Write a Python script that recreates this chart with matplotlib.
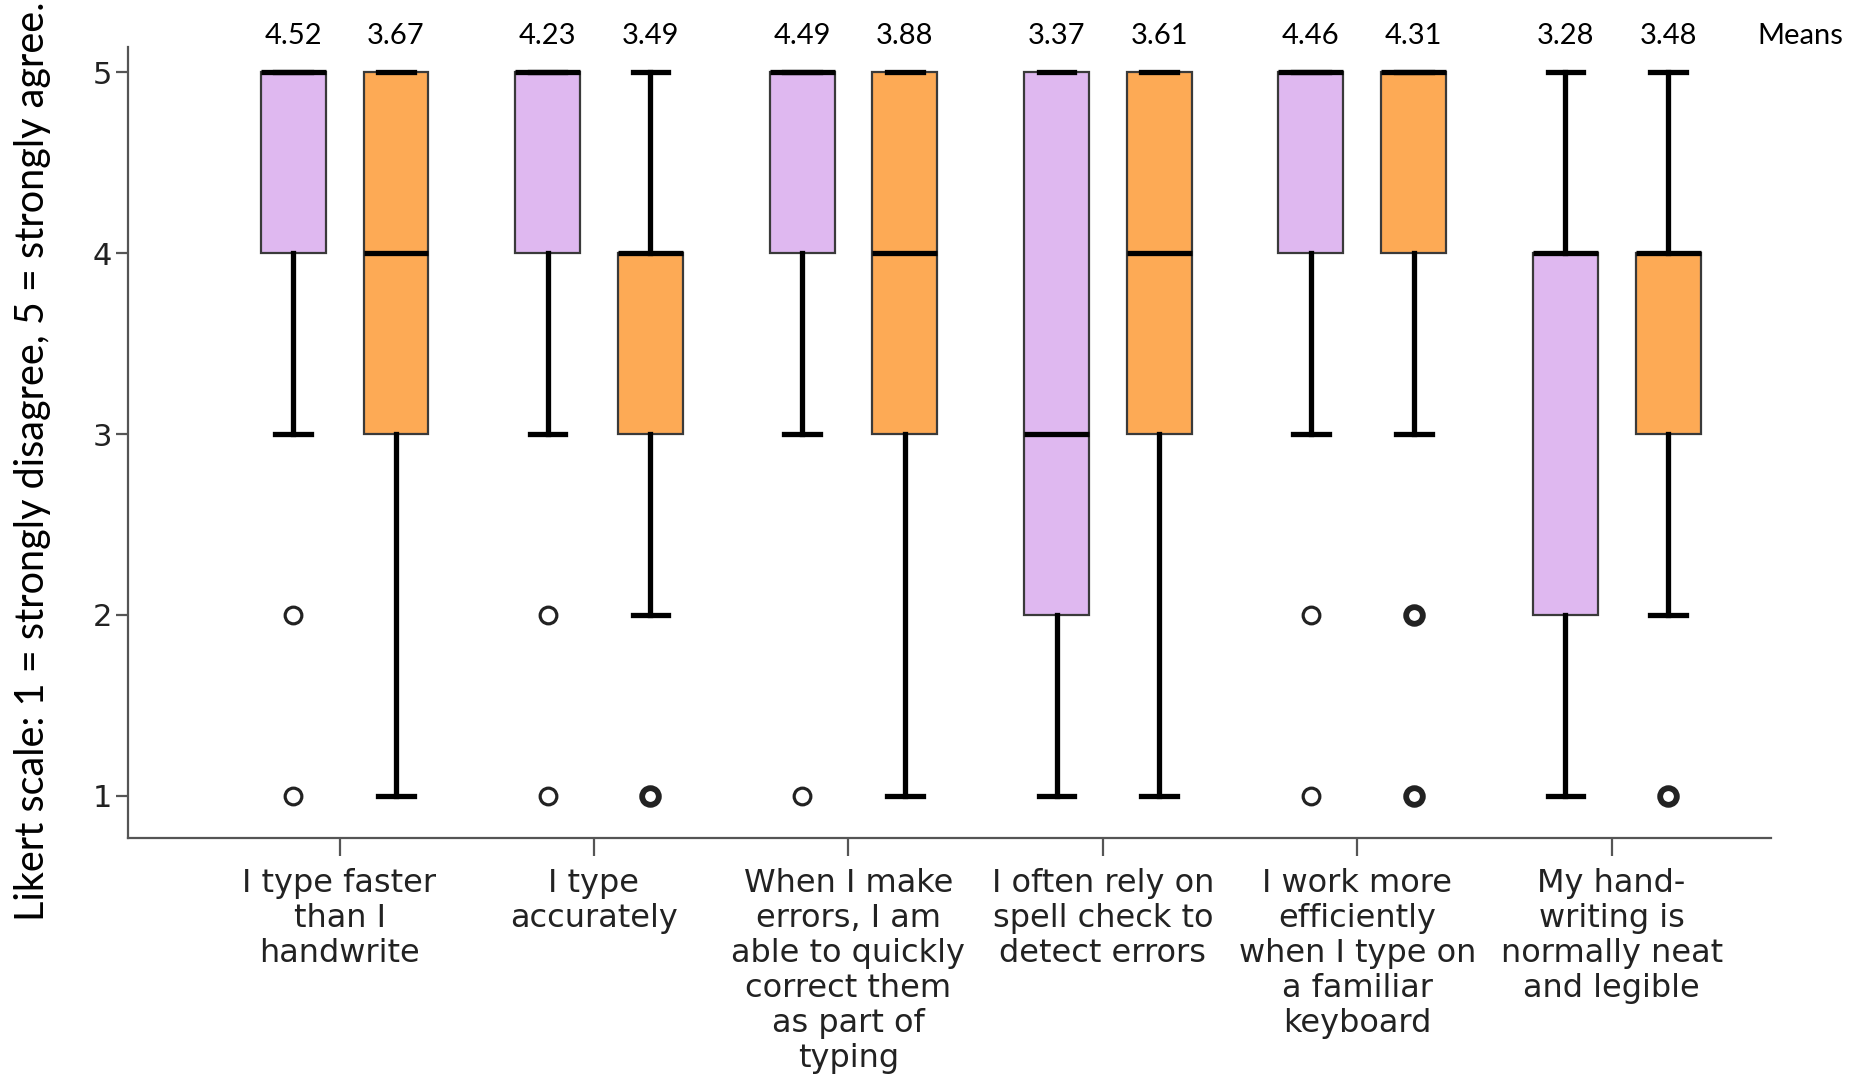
import numpy as np
import matplotlib
matplotlib.use('Agg')
import matplotlib.pyplot as plt

# survey items (x axis) and the two response groups per item
items = ['I type faster\nthan I\nhandwrite',
         'I type\naccurately',
         'When I make\nerrors, I am\nable to quickly\ncorrect them\nas part of\ntyping',
         'I often rely on\nspell check to\ndetect errors',
         'I work more\nefficiently\nwhen I type on\na familiar\nkeyboard',
         'My hand-\nwriting is\nnormally neat\nand legible']

# purple group: box quartiles, median, whisker ends, outliers (value, count)
purple_q1 = [4, 4, 4, 2, 4, 2]
purple_med = [5, 5, 5, 3, 5, 4]
purple_q3 = [5, 5, 5, 5, 5, 4]
purple_lo = [3, 3, 3, 1, 3, 1]
purple_hi = [5, 5, 5, 5, 5, 5]
purple_out = [[(2, 1), (1, 1)], [(2, 1), (1, 1)], [(1, 1)], [], [(2, 1), (1, 1)], []]
purple_means = [4.52, 4.23, 4.49, 3.37, 4.46, 3.28]

# orange group
orange_q1 = [3, 3, 3, 3, 4, 3]
orange_med = [4, 4, 4, 4, 5, 4]
orange_q3 = [5, 4, 5, 5, 5, 4]
orange_lo = [1, 2, 1, 1, 3, 2]
orange_hi = [5, 5, 5, 5, 5, 5]
orange_out = [[], [(1, 3)], [], [], [(2, 3), (1, 3)], [(1, 3)]]
orange_means = [3.67, 3.49, 3.88, 3.61, 4.31, 3.48]

PURPLE = '#dfb8f0'
ORANGE = '#fdaa55'
label_font = ['DejaVu Sans']
calibri_like = ['Lato', 'DejaVu Sans']

fig = plt.figure(figsize=(18.52, 10.79), dpi=100)
ax = fig.add_axes([0.0689, 0.223, 0.8876, 0.733])

def stats(q1, med, q3, lo, hi):
    out = []
    for i in range(len(q1)):
        out.append(dict(q1=q1[i], med=med[i], q3=q3[i], whislo=lo[i], whishi=hi[i], fliers=[]))
    return out

groups = np.arange(len(items))
off = 0.202
width = 0.255

for st, pos, col, outl, means in [
        (stats(purple_q1, purple_med, purple_q3, purple_lo, purple_hi), groups - off, PURPLE, purple_out, purple_means),
        (stats(orange_q1, orange_med, orange_q3, orange_lo, orange_hi), groups + off, ORANGE, orange_out, orange_means)]:
    ax.bxp(st, positions=pos, widths=width, capwidths=0.14, patch_artist=True,
           showfliers=False, manage_ticks=False,
           boxprops=dict(facecolor=col, edgecolor='#3a3a3a', linewidth=1.6),
           whiskerprops=dict(color='black', linewidth=3.8),
           capprops=dict(color='black', linewidth=3.8),
           medianprops=dict(color='black', linewidth=3.8, solid_capstyle='butt'))
    for i, flist in enumerate(outl):
        for v, n in flist:
            ax.plot(pos[i], v, 'o', ms=12, mfc='white', mec='#222222',
                    mew=2.3 if n == 1 else 4.2, zorder=4)
    for i, m in enumerate(means):
        ax.text(pos[i], 5.20, '%.2f' % m, ha='center', va='center',
                fontsize=21, family=calibri_like, clip_on=False)

ax.text(5.72, 5.20, 'Means', ha='center', va='center', fontsize=21,
        family=calibri_like, clip_on=False)

ax.set_xlim(-0.853, 5.608)
ax.set_ylim(0.765, 5.137)
ax.set_yticks([1, 2, 3, 4, 5])
ax.set_xticks(groups - 0.02)
ax.set_xticklabels(items, fontsize=23, family=label_font, linespacing=1.17,
                   color='#222222')
for t in ax.get_yticklabels():
    t.set_fontsize(22)
    t.set_family(label_font)
    t.set_color('#222222')

for s in ['top', 'right']:
    ax.spines[s].set_visible(False)
for s in ['left', 'bottom']:
    ax.spines[s].set_color('#555555')
    ax.spines[s].set_linewidth(1.6)
ax.tick_params(axis='y', length=9, width=1.6, color='#555555', pad=2)
ax.tick_params(axis='x', length=13, width=1.6, color='#555555', pad=8)

fig.text(0.0175, 0.573, 'Likert scale: 1 = strongly disagree, 5 = strongly agree.',
         rotation=90, ha='center', va='center', fontsize=28.5, family=calibri_like)

fig.savefig('out.png', dpi=100)
